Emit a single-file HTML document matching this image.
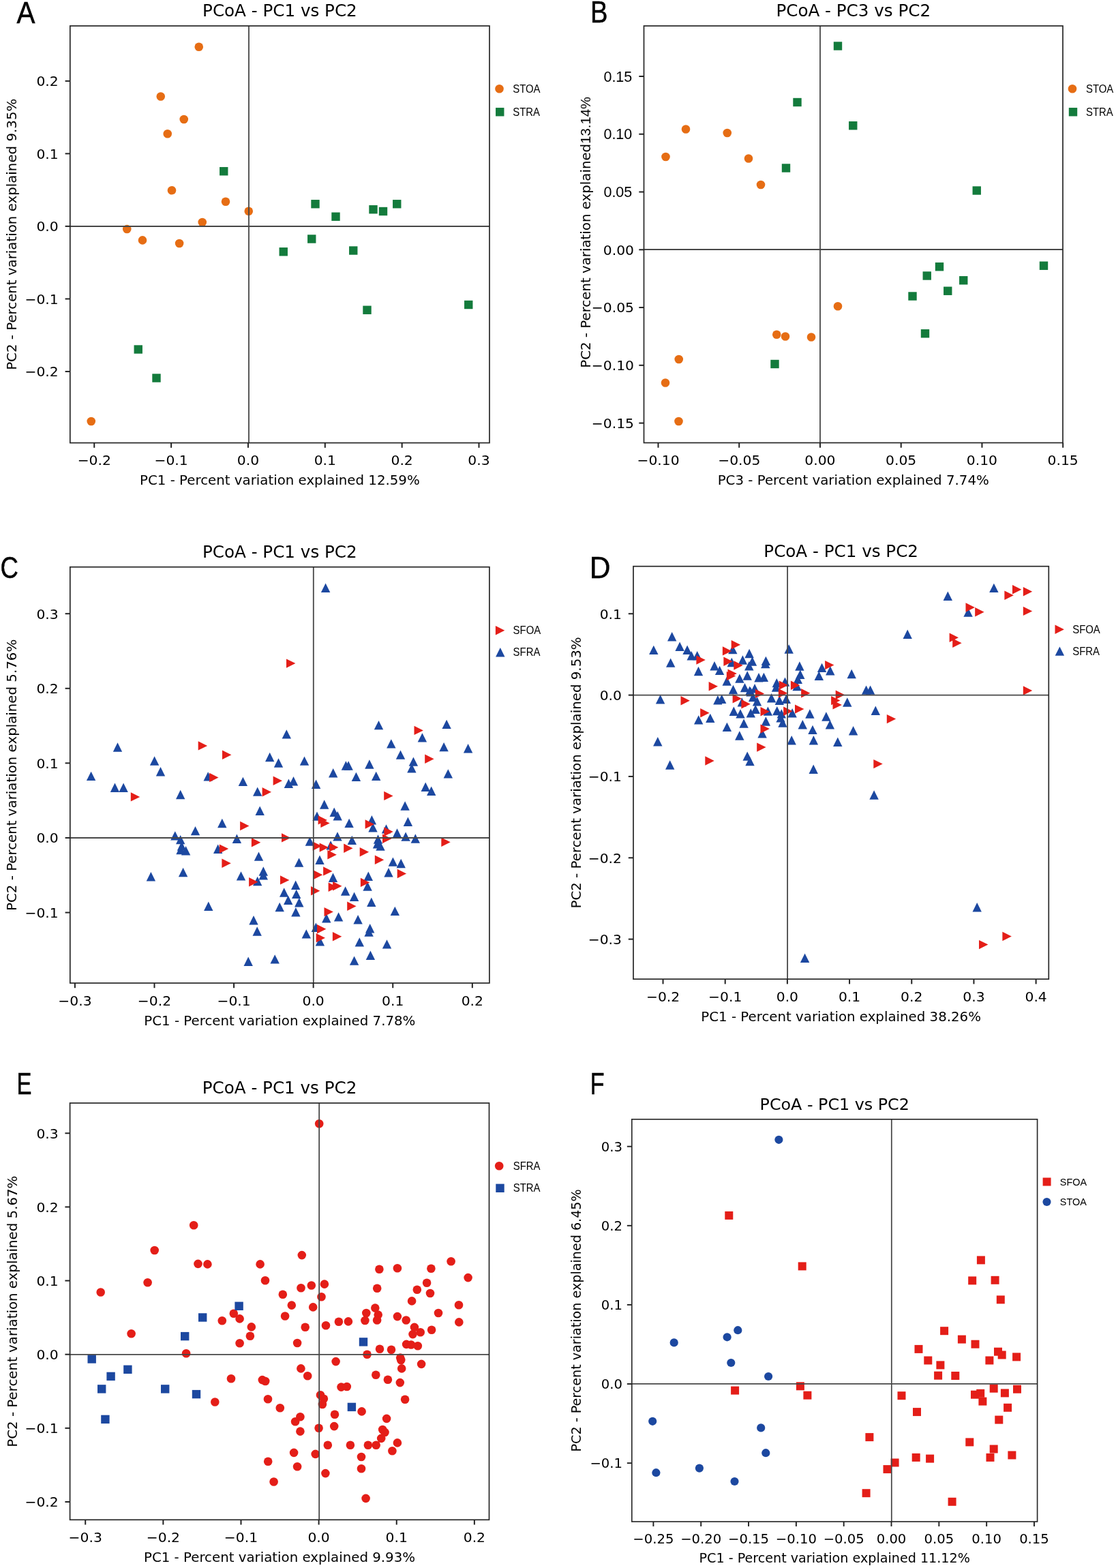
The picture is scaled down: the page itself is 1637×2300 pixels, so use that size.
<!DOCTYPE html>
<html><head><meta charset="utf-8"><title>PCoA plots</title>
<style>html,body{margin:0;padding:0;background:#fff}svg{display:block}</style></head>
<body>
<svg width="1637" height="2300" viewBox="0 0 1637 2300">
<rect width="1637" height="2300" fill="#fff"/>
<circle cx="291.75" cy="68.75" r="6.30" fill="#e66d14"/>
<circle cx="235.75" cy="141.50" r="6.30" fill="#e66d14"/>
<circle cx="269.75" cy="175.00" r="6.30" fill="#e66d14"/>
<circle cx="245.75" cy="196.25" r="6.30" fill="#e66d14"/>
<circle cx="252.00" cy="279.25" r="6.30" fill="#e66d14"/>
<circle cx="331.00" cy="295.75" r="6.30" fill="#e66d14"/>
<circle cx="364.75" cy="309.75" r="6.30" fill="#e66d14"/>
<circle cx="296.75" cy="326.00" r="6.30" fill="#e66d14"/>
<circle cx="186.25" cy="336.00" r="6.30" fill="#e66d14"/>
<circle cx="209.00" cy="352.40" r="6.30" fill="#e66d14"/>
<circle cx="263.10" cy="357.00" r="6.30" fill="#e66d14"/>
<circle cx="133.75" cy="618.00" r="6.30" fill="#e66d14"/>
<rect x="322.05" y="245.05" width="12.40" height="12.40" fill="#137b3c"/>
<rect x="456.30" y="293.05" width="12.40" height="12.40" fill="#137b3c"/>
<rect x="486.30" y="311.55" width="12.40" height="12.40" fill="#137b3c"/>
<rect x="541.30" y="301.05" width="12.40" height="12.40" fill="#137b3c"/>
<rect x="555.80" y="303.80" width="12.40" height="12.40" fill="#137b3c"/>
<rect x="576.05" y="293.05" width="12.40" height="12.40" fill="#137b3c"/>
<rect x="451.05" y="344.30" width="12.40" height="12.40" fill="#137b3c"/>
<rect x="409.55" y="363.05" width="12.40" height="12.40" fill="#137b3c"/>
<rect x="512.05" y="361.30" width="12.40" height="12.40" fill="#137b3c"/>
<rect x="532.30" y="448.55" width="12.40" height="12.40" fill="#137b3c"/>
<rect x="681.05" y="440.80" width="12.40" height="12.40" fill="#137b3c"/>
<rect x="196.55" y="506.30" width="12.40" height="12.40" fill="#137b3c"/>
<rect x="223.30" y="548.30" width="12.40" height="12.40" fill="#137b3c"/>
<line x1="102.80" y1="332.00" x2="718.00" y2="332.00" stroke="#474747" stroke-width="1.80"/>
<line x1="365.00" y1="38.00" x2="365.00" y2="649.60" stroke="#474747" stroke-width="1.80"/>
<rect x="102.80" y="38.00" width="615.20" height="611.60" fill="none" stroke="#262626" stroke-width="1.70"/>
<line x1="138.25" y1="649.60" x2="138.25" y2="656.80" stroke="#222" stroke-width="2.00"/>
<text x="138.25" y="682.30" font-size="20.30" text-anchor="middle" font-family="'DejaVu Sans', 'Liberation Sans', sans-serif">−0.2</text>
<line x1="251.10" y1="649.60" x2="251.10" y2="656.80" stroke="#222" stroke-width="2.00"/>
<text x="251.10" y="682.30" font-size="20.30" text-anchor="middle" font-family="'DejaVu Sans', 'Liberation Sans', sans-serif">−0.1</text>
<line x1="363.95" y1="649.60" x2="363.95" y2="656.80" stroke="#222" stroke-width="2.00"/>
<text x="363.95" y="682.30" font-size="20.30" text-anchor="middle" font-family="'DejaVu Sans', 'Liberation Sans', sans-serif">0.0</text>
<line x1="476.80" y1="649.60" x2="476.80" y2="656.80" stroke="#222" stroke-width="2.00"/>
<text x="476.80" y="682.30" font-size="20.30" text-anchor="middle" font-family="'DejaVu Sans', 'Liberation Sans', sans-serif">0.1</text>
<line x1="589.65" y1="649.60" x2="589.65" y2="656.80" stroke="#222" stroke-width="2.00"/>
<text x="589.65" y="682.30" font-size="20.30" text-anchor="middle" font-family="'DejaVu Sans', 'Liberation Sans', sans-serif">0.2</text>
<line x1="702.50" y1="649.60" x2="702.50" y2="656.80" stroke="#222" stroke-width="2.00"/>
<text x="702.50" y="682.30" font-size="20.30" text-anchor="middle" font-family="'DejaVu Sans', 'Liberation Sans', sans-serif">0.3</text>
<line x1="95.60" y1="118.85" x2="102.80" y2="118.85" stroke="#222" stroke-width="2.00"/>
<text x="85.70" y="126.26" font-size="20.30" text-anchor="end" font-family="'DejaVu Sans', 'Liberation Sans', sans-serif">0.2</text>
<line x1="95.60" y1="225.38" x2="102.80" y2="225.38" stroke="#222" stroke-width="2.00"/>
<text x="85.70" y="232.78" font-size="20.30" text-anchor="end" font-family="'DejaVu Sans', 'Liberation Sans', sans-serif">0.1</text>
<line x1="95.60" y1="331.90" x2="102.80" y2="331.90" stroke="#222" stroke-width="2.00"/>
<text x="85.70" y="339.31" font-size="20.30" text-anchor="end" font-family="'DejaVu Sans', 'Liberation Sans', sans-serif">0.0</text>
<line x1="95.60" y1="438.43" x2="102.80" y2="438.43" stroke="#222" stroke-width="2.00"/>
<text x="85.70" y="445.83" font-size="20.30" text-anchor="end" font-family="'DejaVu Sans', 'Liberation Sans', sans-serif">−0.1</text>
<line x1="95.60" y1="544.95" x2="102.80" y2="544.95" stroke="#222" stroke-width="2.00"/>
<text x="85.70" y="552.36" font-size="20.30" text-anchor="end" font-family="'DejaVu Sans', 'Liberation Sans', sans-serif">−0.2</text>
<text x="410.40" y="24.00" font-size="24.60" text-anchor="middle" font-family="'DejaVu Sans', 'Liberation Sans', sans-serif">PCoA - PC1 vs PC2</text>
<text x="410.40" y="711.00" font-size="19.80" text-anchor="middle" font-family="'DejaVu Sans', 'Liberation Sans', sans-serif">PC1 - Percent variation explained 12.59%</text>
<text transform="translate(24.00,343.80) rotate(-90)" x="0" y="0" font-size="19.80" text-anchor="middle" font-family="'DejaVu Sans', 'Liberation Sans', sans-serif">PC2 - Percent variation explained 9.35%</text>
<circle cx="732.50" cy="130.25" r="6.30" fill="#e66d14"/>
<text transform="translate(752.25,135.85) scale(0.95,1)" x="0" y="0" font-size="15.70" font-family="'Liberation Sans', 'DejaVu Sans', sans-serif">STOA</text>
<rect x="727.05" y="158.05" width="12.40" height="12.40" fill="#137b3c"/>
<text transform="translate(752.25,169.85) scale(0.95,1)" x="0" y="0" font-size="15.70" font-family="'Liberation Sans', 'DejaVu Sans', sans-serif">STRA</text>
<text transform="translate(24.60,33.60) scale(0.915,1)" x="0" y="0" font-size="44.20" font-family="'Liberation Sans', 'DejaVu Sans', sans-serif" stroke="#000" stroke-width="0.5">A</text>
<circle cx="976.50" cy="230.00" r="6.30" fill="#e66d14"/>
<circle cx="1006.00" cy="189.50" r="6.30" fill="#e66d14"/>
<circle cx="1066.75" cy="195.00" r="6.30" fill="#e66d14"/>
<circle cx="1098.00" cy="232.50" r="6.30" fill="#e66d14"/>
<circle cx="1116.00" cy="271.00" r="6.30" fill="#e66d14"/>
<circle cx="1139.25" cy="490.75" r="6.30" fill="#e66d14"/>
<circle cx="1152.00" cy="493.50" r="6.30" fill="#e66d14"/>
<circle cx="1190.00" cy="494.50" r="6.30" fill="#e66d14"/>
<circle cx="995.75" cy="527.00" r="6.30" fill="#e66d14"/>
<circle cx="976.00" cy="561.50" r="6.30" fill="#e66d14"/>
<circle cx="995.50" cy="618.00" r="6.30" fill="#e66d14"/>
<circle cx="1229.00" cy="449.25" r="6.30" fill="#e66d14"/>
<rect x="1163.30" y="143.80" width="12.40" height="12.40" fill="#137b3c"/>
<rect x="1146.80" y="240.30" width="12.40" height="12.40" fill="#137b3c"/>
<rect x="1222.80" y="61.30" width="12.40" height="12.40" fill="#137b3c"/>
<rect x="1245.05" y="178.05" width="12.40" height="12.40" fill="#137b3c"/>
<rect x="1426.55" y="273.30" width="12.40" height="12.40" fill="#137b3c"/>
<rect x="1130.30" y="527.80" width="12.40" height="12.40" fill="#137b3c"/>
<rect x="1371.80" y="385.05" width="12.40" height="12.40" fill="#137b3c"/>
<rect x="1353.55" y="398.30" width="12.40" height="12.40" fill="#137b3c"/>
<rect x="1407.05" y="405.05" width="12.40" height="12.40" fill="#137b3c"/>
<rect x="1384.05" y="420.55" width="12.40" height="12.40" fill="#137b3c"/>
<rect x="1332.30" y="428.30" width="12.40" height="12.40" fill="#137b3c"/>
<rect x="1350.80" y="483.05" width="12.40" height="12.40" fill="#137b3c"/>
<rect x="1524.80" y="383.55" width="12.40" height="12.40" fill="#137b3c"/>
<line x1="944.50" y1="366.00" x2="1559.00" y2="366.00" stroke="#474747" stroke-width="1.80"/>
<line x1="1203.00" y1="38.00" x2="1203.00" y2="649.50" stroke="#474747" stroke-width="1.80"/>
<rect x="944.50" y="38.00" width="614.50" height="611.50" fill="none" stroke="#262626" stroke-width="1.70"/>
<line x1="965.48" y1="649.50" x2="965.48" y2="656.70" stroke="#222" stroke-width="2.00"/>
<text x="965.48" y="682.30" font-size="20.30" text-anchor="middle" font-family="'DejaVu Sans', 'Liberation Sans', sans-serif">−0.10</text>
<line x1="1084.22" y1="649.50" x2="1084.22" y2="656.70" stroke="#222" stroke-width="2.00"/>
<text x="1084.22" y="682.30" font-size="20.30" text-anchor="middle" font-family="'DejaVu Sans', 'Liberation Sans', sans-serif">−0.05</text>
<line x1="1202.96" y1="649.50" x2="1202.96" y2="656.70" stroke="#222" stroke-width="2.00"/>
<text x="1202.96" y="682.30" font-size="20.30" text-anchor="middle" font-family="'DejaVu Sans', 'Liberation Sans', sans-serif">0.00</text>
<line x1="1321.70" y1="649.50" x2="1321.70" y2="656.70" stroke="#222" stroke-width="2.00"/>
<text x="1321.70" y="682.30" font-size="20.30" text-anchor="middle" font-family="'DejaVu Sans', 'Liberation Sans', sans-serif">0.05</text>
<line x1="1440.45" y1="649.50" x2="1440.45" y2="656.70" stroke="#222" stroke-width="2.00"/>
<text x="1440.45" y="682.30" font-size="20.30" text-anchor="middle" font-family="'DejaVu Sans', 'Liberation Sans', sans-serif">0.10</text>
<line x1="1559.19" y1="649.50" x2="1559.19" y2="656.70" stroke="#222" stroke-width="2.00"/>
<text x="1559.19" y="682.30" font-size="20.30" text-anchor="middle" font-family="'DejaVu Sans', 'Liberation Sans', sans-serif">0.15</text>
<line x1="937.30" y1="111.98" x2="944.50" y2="111.98" stroke="#222" stroke-width="2.00"/>
<text x="927.30" y="119.68" font-size="21.50" text-anchor="end" font-family="'Liberation Sans', 'DejaVu Sans', sans-serif">0.15</text>
<line x1="937.30" y1="196.75" x2="944.50" y2="196.75" stroke="#222" stroke-width="2.00"/>
<text x="927.30" y="204.45" font-size="21.50" text-anchor="end" font-family="'Liberation Sans', 'DejaVu Sans', sans-serif">0.10</text>
<line x1="937.30" y1="281.52" x2="944.50" y2="281.52" stroke="#222" stroke-width="2.00"/>
<text x="927.30" y="289.21" font-size="21.50" text-anchor="end" font-family="'Liberation Sans', 'DejaVu Sans', sans-serif">0.05</text>
<line x1="937.30" y1="366.29" x2="944.50" y2="366.29" stroke="#222" stroke-width="2.00"/>
<text x="930.00" y="373.70" font-size="20.30" text-anchor="end" font-family="'DejaVu Sans', 'Liberation Sans', sans-serif">0.00</text>
<line x1="937.30" y1="451.05" x2="944.50" y2="451.05" stroke="#222" stroke-width="2.00"/>
<text x="930.00" y="458.46" font-size="20.30" text-anchor="end" font-family="'DejaVu Sans', 'Liberation Sans', sans-serif">−0.05</text>
<line x1="937.30" y1="535.82" x2="944.50" y2="535.82" stroke="#222" stroke-width="2.00"/>
<text x="930.00" y="543.23" font-size="20.30" text-anchor="end" font-family="'DejaVu Sans', 'Liberation Sans', sans-serif">−0.10</text>
<line x1="937.30" y1="620.59" x2="944.50" y2="620.59" stroke="#222" stroke-width="2.00"/>
<text x="930.00" y="628.00" font-size="20.30" text-anchor="end" font-family="'DejaVu Sans', 'Liberation Sans', sans-serif">−0.15</text>
<text x="1251.75" y="24.00" font-size="24.60" text-anchor="middle" font-family="'DejaVu Sans', 'Liberation Sans', sans-serif">PCoA - PC3 vs PC2</text>
<text x="1251.75" y="711.00" font-size="19.80" text-anchor="middle" font-family="'DejaVu Sans', 'Liberation Sans', sans-serif">PC3 - Percent variation explained 7.74%</text>
<text transform="translate(866.30,539.80) rotate(-90)" x="0" y="0" font-size="19.80" font-family="'DejaVu Sans', 'Liberation Sans', sans-serif"><tspan font-family="'DejaVu Sans', 'Liberation Sans', sans-serif" font-size="19.80">PC2 - Percent variation explained</tspan><tspan font-family="'Liberation Sans', 'DejaVu Sans', sans-serif" font-size="20.30">13.14%</tspan></text>
<circle cx="1573.00" cy="130.25" r="6.30" fill="#e66d14"/>
<text transform="translate(1593.00,135.85) scale(0.95,1)" x="0" y="0" font-size="15.70" font-family="'Liberation Sans', 'DejaVu Sans', sans-serif">STOA</text>
<rect x="1567.80" y="158.05" width="12.40" height="12.40" fill="#137b3c"/>
<text transform="translate(1593.00,169.85) scale(0.95,1)" x="0" y="0" font-size="15.70" font-family="'Liberation Sans', 'DejaVu Sans', sans-serif">STRA</text>
<text transform="translate(865.94,33.40) scale(0.861,1)" x="0" y="0" font-size="44.49" font-family="'Liberation Sans', 'DejaVu Sans', sans-serif" stroke="#000" stroke-width="0.5">B</text>
<path d="M172.50 1089.30L179.20 1102.70L165.80 1102.70Z" fill="#1c48a0"/>
<path d="M226.60 1109.30L233.30 1122.70L219.90 1122.70Z" fill="#1c48a0"/>
<path d="M395.70 1103.80L402.40 1117.20L389.00 1117.20Z" fill="#1c48a0"/>
<path d="M408.50 1112.30L415.20 1125.70L401.80 1125.70Z" fill="#1c48a0"/>
<path d="M477.60 855.60L484.30 869.00L470.90 869.00Z" fill="#1c48a0"/>
<path d="M420.30 1070.20L427.00 1083.60L413.60 1083.60Z" fill="#1c48a0"/>
<path d="M446.50 1109.40L453.20 1122.80L439.80 1122.80Z" fill="#1c48a0"/>
<path d="M555.50 1056.90L562.20 1070.30L548.80 1070.30Z" fill="#1c48a0"/>
<path d="M655.10 1055.70L661.80 1069.10L648.40 1069.10Z" fill="#1c48a0"/>
<path d="M619.40 1075.20L626.10 1088.60L612.70 1088.60Z" fill="#1c48a0"/>
<path d="M573.80 1084.20L580.50 1097.60L567.10 1097.60Z" fill="#1c48a0"/>
<path d="M651.10 1088.90L657.80 1102.30L644.40 1102.30Z" fill="#1c48a0"/>
<path d="M686.60 1091.00L693.30 1104.40L679.90 1104.40Z" fill="#1c48a0"/>
<path d="M587.50 1100.40L594.20 1113.80L580.80 1113.80Z" fill="#1c48a0"/>
<path d="M606.40 1110.40L613.10 1123.80L599.70 1123.80Z" fill="#1c48a0"/>
<path d="M603.90 1120.10L610.60 1133.50L597.20 1133.50Z" fill="#1c48a0"/>
<path d="M541.90 1114.30L548.60 1127.70L535.20 1127.70Z" fill="#1c48a0"/>
<path d="M507.40 1116.30L514.10 1129.70L500.70 1129.70Z" fill="#1c48a0"/>
<path d="M511.10 1116.30L517.80 1129.70L504.40 1129.70Z" fill="#1c48a0"/>
<path d="M133.60 1131.70L140.30 1145.10L126.90 1145.10Z" fill="#1c48a0"/>
<path d="M235.50 1125.00L242.20 1138.40L228.80 1138.40Z" fill="#1c48a0"/>
<path d="M305.20 1132.20L311.90 1145.60L298.50 1145.60Z" fill="#1c48a0"/>
<path d="M356.40 1139.70L363.10 1153.10L349.70 1153.10Z" fill="#1c48a0"/>
<path d="M168.50 1148.50L175.20 1161.90L161.80 1161.90Z" fill="#1c48a0"/>
<path d="M181.10 1148.50L187.80 1161.90L174.40 1161.90Z" fill="#1c48a0"/>
<path d="M264.70 1158.80L271.40 1172.20L258.00 1172.20Z" fill="#1c48a0"/>
<path d="M377.70 1154.40L384.40 1167.80L371.00 1167.80Z" fill="#1c48a0"/>
<path d="M381.20 1182.60L387.90 1196.00L374.50 1196.00Z" fill="#1c48a0"/>
<path d="M325.80 1200.80L332.50 1214.20L319.10 1214.20Z" fill="#1c48a0"/>
<path d="M286.50 1211.90L293.20 1225.30L279.80 1225.30Z" fill="#1c48a0"/>
<path d="M256.80 1219.20L263.50 1232.60L250.10 1232.60Z" fill="#1c48a0"/>
<path d="M264.70 1224.90L271.40 1238.30L258.00 1238.30Z" fill="#1c48a0"/>
<path d="M266.50 1234.30L273.20 1247.70L259.80 1247.70Z" fill="#1c48a0"/>
<path d="M265.00 1239.80L271.70 1253.20L258.30 1253.20Z" fill="#1c48a0"/>
<path d="M272.60 1241.00L279.30 1254.40L265.90 1254.40Z" fill="#1c48a0"/>
<path d="M347.40 1223.50L354.10 1236.90L340.70 1236.90Z" fill="#1c48a0"/>
<path d="M319.70 1238.60L326.40 1252.00L313.00 1252.00Z" fill="#1c48a0"/>
<path d="M379.50 1249.40L386.20 1262.80L372.80 1262.80Z" fill="#1c48a0"/>
<path d="M268.60 1272.80L275.30 1286.20L261.90 1286.20Z" fill="#1c48a0"/>
<path d="M386.30 1271.30L393.00 1284.70L379.60 1284.70Z" fill="#1c48a0"/>
<path d="M386.30 1277.00L393.00 1290.40L379.60 1290.40Z" fill="#1c48a0"/>
<path d="M221.40 1279.00L228.10 1292.40L214.70 1292.40Z" fill="#1c48a0"/>
<path d="M353.50 1278.20L360.20 1291.60L346.80 1291.60Z" fill="#1c48a0"/>
<path d="M377.70 1285.80L384.40 1299.20L371.00 1299.20Z" fill="#1c48a0"/>
<path d="M305.80 1322.50L312.50 1335.90L299.10 1335.90Z" fill="#1c48a0"/>
<path d="M410.20 1323.80L416.90 1337.20L403.50 1337.20Z" fill="#1c48a0"/>
<path d="M372.00 1343.10L378.70 1356.50L365.30 1356.50Z" fill="#1c48a0"/>
<path d="M377.20 1359.30L383.90 1372.70L370.50 1372.70Z" fill="#1c48a0"/>
<path d="M364.20 1403.60L370.90 1417.00L357.50 1417.00Z" fill="#1c48a0"/>
<path d="M403.20 1400.20L409.90 1413.60L396.50 1413.60Z" fill="#1c48a0"/>
<path d="M488.70 1127.00L495.40 1140.40L482.00 1140.40Z" fill="#1c48a0"/>
<path d="M522.40 1132.70L529.10 1146.10L515.70 1146.10Z" fill="#1c48a0"/>
<path d="M551.70 1131.70L558.40 1145.10L545.00 1145.10Z" fill="#1c48a0"/>
<path d="M657.30 1128.20L664.00 1141.60L650.60 1141.60Z" fill="#1c48a0"/>
<path d="M423.40 1142.60L430.10 1156.00L416.70 1156.00Z" fill="#1c48a0"/>
<path d="M430.50 1139.00L437.20 1152.40L423.80 1152.40Z" fill="#1c48a0"/>
<path d="M463.60 1143.50L470.30 1156.90L456.90 1156.90Z" fill="#1c48a0"/>
<path d="M624.20 1147.50L630.90 1160.90L617.50 1160.90Z" fill="#1c48a0"/>
<path d="M632.70 1153.60L639.40 1167.00L626.00 1167.00Z" fill="#1c48a0"/>
<path d="M475.70 1173.30L482.40 1186.70L469.00 1186.70Z" fill="#1c48a0"/>
<path d="M594.10 1175.30L600.80 1188.70L587.40 1188.70Z" fill="#1c48a0"/>
<path d="M490.20 1184.50L496.90 1197.90L483.50 1197.90Z" fill="#1c48a0"/>
<path d="M495.20 1190.00L501.90 1203.40L488.50 1203.40Z" fill="#1c48a0"/>
<path d="M465.00 1190.40L471.70 1203.80L458.30 1203.80Z" fill="#1c48a0"/>
<path d="M512.10 1200.70L518.80 1214.10L505.40 1214.10Z" fill="#1c48a0"/>
<path d="M545.40 1196.00L552.10 1209.40L538.70 1209.40Z" fill="#1c48a0"/>
<path d="M547.00 1207.20L553.70 1220.60L540.30 1220.60Z" fill="#1c48a0"/>
<path d="M598.40 1198.50L605.10 1211.90L591.70 1211.90Z" fill="#1c48a0"/>
<path d="M566.50 1209.20L573.20 1222.60L559.80 1222.60Z" fill="#1c48a0"/>
<path d="M582.50 1215.30L589.20 1228.70L575.80 1228.70Z" fill="#1c48a0"/>
<path d="M495.00 1220.20L501.70 1233.60L488.30 1233.60Z" fill="#1c48a0"/>
<path d="M454.40 1227.30L461.10 1240.70L447.70 1240.70Z" fill="#1c48a0"/>
<path d="M516.30 1225.70L523.00 1239.10L509.60 1239.10Z" fill="#1c48a0"/>
<path d="M595.10 1220.40L601.80 1233.80L588.40 1233.80Z" fill="#1c48a0"/>
<path d="M609.30 1223.30L616.00 1236.70L602.60 1236.70Z" fill="#1c48a0"/>
<path d="M554.50 1224.30L561.20 1237.70L547.80 1237.70Z" fill="#1c48a0"/>
<path d="M553.50 1231.20L560.20 1244.60L546.80 1244.60Z" fill="#1c48a0"/>
<path d="M558.00 1234.40L564.70 1247.80L551.30 1247.80Z" fill="#1c48a0"/>
<path d="M485.10 1233.20L491.80 1246.60L478.40 1246.60Z" fill="#1c48a0"/>
<path d="M438.60 1258.40L445.30 1271.80L431.90 1271.80Z" fill="#1c48a0"/>
<path d="M469.00 1254.50L475.70 1267.90L462.30 1267.90Z" fill="#1c48a0"/>
<path d="M576.40 1257.40L583.10 1270.80L569.70 1270.80Z" fill="#1c48a0"/>
<path d="M588.20 1259.80L594.90 1273.20L581.50 1273.20Z" fill="#1c48a0"/>
<path d="M570.00 1273.10L576.70 1286.50L563.30 1286.50Z" fill="#1c48a0"/>
<path d="M488.50 1280.60L495.20 1294.00L481.80 1294.00Z" fill="#1c48a0"/>
<path d="M540.30 1278.50L547.00 1291.90L533.60 1291.90Z" fill="#1c48a0"/>
<path d="M433.70 1291.50L440.40 1304.90L427.00 1304.90Z" fill="#1c48a0"/>
<path d="M416.70 1302.30L423.40 1315.70L410.00 1315.70Z" fill="#1c48a0"/>
<path d="M434.70 1304.70L441.40 1318.10L428.00 1318.10Z" fill="#1c48a0"/>
<path d="M422.70 1313.50L429.40 1326.90L416.00 1326.90Z" fill="#1c48a0"/>
<path d="M438.80 1317.10L445.50 1330.50L432.10 1330.50Z" fill="#1c48a0"/>
<path d="M433.90 1331.10L440.60 1344.50L427.20 1344.50Z" fill="#1c48a0"/>
<path d="M539.10 1293.30L545.80 1306.70L532.40 1306.70Z" fill="#1c48a0"/>
<path d="M506.60 1300.30L513.30 1313.70L499.90 1313.70Z" fill="#1c48a0"/>
<path d="M519.60 1308.60L526.30 1322.00L512.90 1322.00Z" fill="#1c48a0"/>
<path d="M544.80 1316.50L551.50 1329.90L538.10 1329.90Z" fill="#1c48a0"/>
<path d="M579.30 1329.70L586.00 1343.10L572.60 1343.10Z" fill="#1c48a0"/>
<path d="M478.80 1340.10L485.50 1353.50L472.10 1353.50Z" fill="#1c48a0"/>
<path d="M496.60 1338.20L503.30 1351.60L489.90 1351.60Z" fill="#1c48a0"/>
<path d="M525.10 1342.10L531.80 1355.50L518.40 1355.50Z" fill="#1c48a0"/>
<path d="M463.40 1353.50L470.10 1366.90L456.70 1366.90Z" fill="#1c48a0"/>
<path d="M542.70 1355.10L549.40 1368.50L536.00 1368.50Z" fill="#1c48a0"/>
<path d="M541.10 1360.40L547.80 1373.80L534.40 1373.80Z" fill="#1c48a0"/>
<path d="M449.30 1363.20L456.00 1376.60L442.60 1376.60Z" fill="#1c48a0"/>
<path d="M469.40 1374.20L476.10 1387.60L462.70 1387.60Z" fill="#1c48a0"/>
<path d="M527.30 1375.20L534.00 1388.60L520.60 1388.60Z" fill="#1c48a0"/>
<path d="M567.50 1378.20L574.20 1391.60L560.80 1391.60Z" fill="#1c48a0"/>
<path d="M543.40 1394.50L550.10 1407.90L536.70 1407.90Z" fill="#1c48a0"/>
<path d="M519.60 1402.40L526.30 1415.80L512.90 1415.80Z" fill="#1c48a0"/>
<path d="M304.10 1093.90L290.70 1100.60L290.70 1087.20Z" fill="#e41e18"/>
<path d="M339.40 1107.30L326.00 1114.00L326.00 1100.60Z" fill="#e41e18"/>
<path d="M433.40 973.10L420.00 979.80L420.00 966.40Z" fill="#e41e18"/>
<path d="M620.90 1071.40L607.50 1078.10L607.50 1064.70Z" fill="#e41e18"/>
<path d="M636.60 1113.20L623.20 1119.90L623.20 1106.50Z" fill="#e41e18"/>
<path d="M320.50 1140.50L307.10 1147.20L307.10 1133.80Z" fill="#e41e18"/>
<path d="M414.00 1145.20L400.60 1151.90L400.60 1138.50Z" fill="#e41e18"/>
<path d="M205.20 1168.90L191.80 1175.60L191.80 1162.20Z" fill="#e41e18"/>
<path d="M398.00 1161.70L384.60 1168.40L384.60 1155.00Z" fill="#e41e18"/>
<path d="M365.50 1211.50L352.10 1218.20L352.10 1204.80Z" fill="#e41e18"/>
<path d="M382.30 1235.70L368.90 1242.40L368.90 1229.00Z" fill="#e41e18"/>
<path d="M335.20 1245.10L321.80 1251.80L321.80 1238.40Z" fill="#e41e18"/>
<path d="M338.80 1266.30L325.40 1273.00L325.40 1259.60Z" fill="#e41e18"/>
<path d="M378.50 1293.70L365.10 1300.40L365.10 1287.00Z" fill="#e41e18"/>
<path d="M576.60 1167.40L563.20 1174.10L563.20 1160.70Z" fill="#e41e18"/>
<path d="M480.00 1202.90L466.60 1209.60L466.60 1196.20Z" fill="#e41e18"/>
<path d="M483.70 1207.40L470.30 1214.10L470.30 1200.70Z" fill="#e41e18"/>
<path d="M549.00 1209.00L535.60 1215.70L535.60 1202.30Z" fill="#e41e18"/>
<path d="M576.70 1220.00L563.30 1226.70L563.30 1213.30Z" fill="#e41e18"/>
<path d="M426.40 1228.90L413.00 1235.60L413.00 1222.20Z" fill="#e41e18"/>
<path d="M660.70 1235.20L647.30 1241.90L647.30 1228.50Z" fill="#e41e18"/>
<path d="M574.40 1230.20L561.00 1236.90L561.00 1223.50Z" fill="#e41e18"/>
<path d="M472.10 1241.10L458.70 1247.80L458.70 1234.40Z" fill="#e41e18"/>
<path d="M482.00 1243.10L468.60 1249.80L468.60 1236.40Z" fill="#e41e18"/>
<path d="M496.40 1242.90L483.00 1249.60L483.00 1236.20Z" fill="#e41e18"/>
<path d="M517.60 1244.20L504.20 1250.90L504.20 1237.50Z" fill="#e41e18"/>
<path d="M493.80 1253.70L480.40 1260.40L480.40 1247.00Z" fill="#e41e18"/>
<path d="M541.10 1249.80L527.70 1256.50L527.70 1243.10Z" fill="#e41e18"/>
<path d="M563.20 1261.20L549.80 1267.90L549.80 1254.50Z" fill="#e41e18"/>
<path d="M596.10 1281.50L582.70 1288.20L582.70 1274.80Z" fill="#e41e18"/>
<path d="M487.50 1277.90L474.10 1284.60L474.10 1271.20Z" fill="#e41e18"/>
<path d="M473.30 1283.30L459.90 1290.00L459.90 1276.60Z" fill="#e41e18"/>
<path d="M424.40 1290.90L411.00 1297.60L411.00 1284.20Z" fill="#e41e18"/>
<path d="M469.40 1306.70L456.00 1313.40L456.00 1300.00Z" fill="#e41e18"/>
<path d="M495.00 1301.30L481.60 1308.00L481.60 1294.60Z" fill="#e41e18"/>
<path d="M501.50 1299.80L488.10 1306.50L488.10 1293.10Z" fill="#e41e18"/>
<path d="M542.30 1294.40L528.90 1301.10L528.90 1287.70Z" fill="#e41e18"/>
<path d="M522.60 1329.30L509.20 1336.00L509.20 1322.60Z" fill="#e41e18"/>
<path d="M488.90 1337.60L475.50 1344.30L475.50 1330.90Z" fill="#e41e18"/>
<path d="M478.40 1362.80L465.00 1369.50L465.00 1356.10Z" fill="#e41e18"/>
<path d="M477.00 1375.80L463.60 1382.50L463.60 1369.10Z" fill="#e41e18"/>
<path d="M501.30 1373.80L487.90 1380.50L487.90 1367.10Z" fill="#e41e18"/>
<line x1="102.80" y1="1229.00" x2="717.90" y2="1229.00" stroke="#474747" stroke-width="1.80"/>
<line x1="459.80" y1="831.70" x2="459.80" y2="1442.00" stroke="#474747" stroke-width="1.80"/>
<rect x="102.80" y="831.70" width="615.10" height="610.30" fill="none" stroke="#262626" stroke-width="1.70"/>
<line x1="109.91" y1="1442.00" x2="109.91" y2="1449.20" stroke="#222" stroke-width="2.00"/>
<text x="109.91" y="1474.80" font-size="20.30" text-anchor="middle" font-family="'DejaVu Sans', 'Liberation Sans', sans-serif">−0.3</text>
<line x1="226.49" y1="1442.00" x2="226.49" y2="1449.20" stroke="#222" stroke-width="2.00"/>
<text x="226.49" y="1474.80" font-size="20.30" text-anchor="middle" font-family="'DejaVu Sans', 'Liberation Sans', sans-serif">−0.2</text>
<line x1="343.08" y1="1442.00" x2="343.08" y2="1449.20" stroke="#222" stroke-width="2.00"/>
<text x="343.08" y="1474.80" font-size="20.30" text-anchor="middle" font-family="'DejaVu Sans', 'Liberation Sans', sans-serif">−0.1</text>
<line x1="459.66" y1="1442.00" x2="459.66" y2="1449.20" stroke="#222" stroke-width="2.00"/>
<text x="459.66" y="1474.80" font-size="20.30" text-anchor="middle" font-family="'DejaVu Sans', 'Liberation Sans', sans-serif">0.0</text>
<line x1="576.24" y1="1442.00" x2="576.24" y2="1449.20" stroke="#222" stroke-width="2.00"/>
<text x="576.24" y="1474.80" font-size="20.30" text-anchor="middle" font-family="'DejaVu Sans', 'Liberation Sans', sans-serif">0.1</text>
<line x1="692.82" y1="1442.00" x2="692.82" y2="1449.20" stroke="#222" stroke-width="2.00"/>
<text x="692.82" y="1474.80" font-size="20.30" text-anchor="middle" font-family="'DejaVu Sans', 'Liberation Sans', sans-serif">0.2</text>
<line x1="95.60" y1="900.20" x2="102.80" y2="900.20" stroke="#222" stroke-width="2.00"/>
<text x="85.70" y="907.61" font-size="20.30" text-anchor="end" font-family="'DejaVu Sans', 'Liberation Sans', sans-serif">0.3</text>
<line x1="95.60" y1="1009.79" x2="102.80" y2="1009.79" stroke="#222" stroke-width="2.00"/>
<text x="85.70" y="1017.20" font-size="20.30" text-anchor="end" font-family="'DejaVu Sans', 'Liberation Sans', sans-serif">0.2</text>
<line x1="95.60" y1="1119.38" x2="102.80" y2="1119.38" stroke="#222" stroke-width="2.00"/>
<text x="85.70" y="1126.79" font-size="20.30" text-anchor="end" font-family="'DejaVu Sans', 'Liberation Sans', sans-serif">0.1</text>
<line x1="95.60" y1="1228.97" x2="102.80" y2="1228.97" stroke="#222" stroke-width="2.00"/>
<text x="85.70" y="1236.38" font-size="20.30" text-anchor="end" font-family="'DejaVu Sans', 'Liberation Sans', sans-serif">0.0</text>
<line x1="95.60" y1="1338.56" x2="102.80" y2="1338.56" stroke="#222" stroke-width="2.00"/>
<text x="85.70" y="1345.97" font-size="20.30" text-anchor="end" font-family="'DejaVu Sans', 'Liberation Sans', sans-serif">−0.1</text>
<text x="410.35" y="817.60" font-size="24.60" text-anchor="middle" font-family="'DejaVu Sans', 'Liberation Sans', sans-serif">PCoA - PC1 vs PC2</text>
<text x="410.35" y="1503.50" font-size="19.80" text-anchor="middle" font-family="'DejaVu Sans', 'Liberation Sans', sans-serif">PC1 - Percent variation explained 7.78%</text>
<text transform="translate(24.00,1136.85) rotate(-90)" x="0" y="0" font-size="19.80" text-anchor="middle" font-family="'DejaVu Sans', 'Liberation Sans', sans-serif">PC2 - Percent variation explained 5.76%</text>
<path d="M740.30 924.80L726.90 931.50L726.90 918.10Z" fill="#e41e18"/>
<text transform="translate(752.60,930.40) scale(0.95,1)" x="0" y="0" font-size="15.70" font-family="'Liberation Sans', 'DejaVu Sans', sans-serif">SFOA</text>
<path d="M733.80 950.10L740.50 963.50L727.10 963.50Z" fill="#1c48a0"/>
<text transform="translate(752.60,962.40) scale(0.95,1)" x="0" y="0" font-size="15.70" font-family="'Liberation Sans', 'DejaVu Sans', sans-serif">SFRA</text>
<text transform="translate(0.57,848.00) scale(0.840,1)" x="0" y="0" font-size="43.66" font-family="'Liberation Sans', 'DejaVu Sans', sans-serif" stroke="#000" stroke-width="0.5">C</text>
<path d="M985.70 927.00L992.40 940.40L979.00 940.40Z" fill="#1c48a0"/>
<path d="M958.80 946.70L965.50 960.10L952.10 960.10Z" fill="#1c48a0"/>
<path d="M997.10 941.50L1003.80 954.90L990.40 954.90Z" fill="#1c48a0"/>
<path d="M1008.10 946.60L1014.80 960.00L1001.40 960.00Z" fill="#1c48a0"/>
<path d="M1014.20 955.10L1020.90 968.50L1007.50 968.50Z" fill="#1c48a0"/>
<path d="M1022.70 954.90L1029.40 968.30L1016.00 968.30Z" fill="#1c48a0"/>
<path d="M983.70 965.40L990.40 978.80L977.00 978.80Z" fill="#1c48a0"/>
<path d="M1024.50 977.80L1031.20 991.20L1017.80 991.20Z" fill="#1c48a0"/>
<path d="M1048.00 970.10L1054.70 983.50L1041.30 983.50Z" fill="#1c48a0"/>
<path d="M1055.60 976.70L1062.30 990.10L1048.90 990.10Z" fill="#1c48a0"/>
<path d="M1074.80 945.90L1081.50 959.30L1068.10 959.30Z" fill="#1c48a0"/>
<path d="M1073.30 964.80L1080.00 978.20L1066.60 978.20Z" fill="#1c48a0"/>
<path d="M1089.40 961.30L1096.10 974.70L1082.70 974.70Z" fill="#1c48a0"/>
<path d="M1099.10 951.80L1105.80 965.20L1092.40 965.20Z" fill="#1c48a0"/>
<path d="M1103.50 963.30L1110.20 976.70L1096.80 976.70Z" fill="#1c48a0"/>
<path d="M1098.80 970.00L1105.50 983.40L1092.10 983.40Z" fill="#1c48a0"/>
<path d="M1123.40 962.70L1130.10 976.10L1116.70 976.10Z" fill="#1c48a0"/>
<path d="M1122.80 966.80L1129.50 980.20L1116.10 980.20Z" fill="#1c48a0"/>
<path d="M1084.90 988.40L1091.60 1001.80L1078.20 1001.80Z" fill="#1c48a0"/>
<path d="M1096.20 984.30L1102.90 997.70L1089.50 997.70Z" fill="#1c48a0"/>
<path d="M1113.00 987.00L1119.70 1000.40L1106.30 1000.40Z" fill="#1c48a0"/>
<path d="M1120.40 986.70L1127.10 1000.10L1113.70 1000.10Z" fill="#1c48a0"/>
<path d="M1066.20 992.30L1072.90 1005.70L1059.50 1005.70Z" fill="#1c48a0"/>
<path d="M1075.50 1004.80L1082.20 1018.20L1068.80 1018.20Z" fill="#1c48a0"/>
<path d="M1092.50 1001.90L1099.20 1015.30L1085.80 1015.30Z" fill="#1c48a0"/>
<path d="M1099.70 1006.60L1106.40 1020.00L1093.00 1020.00Z" fill="#1c48a0"/>
<path d="M1107.10 1003.10L1113.80 1016.50L1100.40 1016.50Z" fill="#1c48a0"/>
<path d="M1157.20 945.30L1163.90 958.70L1150.50 958.70Z" fill="#1c48a0"/>
<path d="M1172.90 970.30L1179.60 983.70L1166.20 983.70Z" fill="#1c48a0"/>
<path d="M1173.80 982.60L1180.50 996.00L1167.10 996.00Z" fill="#1c48a0"/>
<path d="M1170.30 989.60L1177.00 1003.00L1163.60 1003.00Z" fill="#1c48a0"/>
<path d="M1169.10 999.80L1175.80 1013.20L1162.40 1013.20Z" fill="#1c48a0"/>
<path d="M1205.60 972.70L1212.30 986.10L1198.90 986.10Z" fill="#1c48a0"/>
<path d="M1217.80 977.00L1224.50 990.40L1211.10 990.40Z" fill="#1c48a0"/>
<path d="M1201.30 984.50L1208.00 997.90L1194.60 997.90Z" fill="#1c48a0"/>
<path d="M1249.20 981.80L1255.90 995.20L1242.50 995.20Z" fill="#1c48a0"/>
<path d="M1270.60 1005.40L1277.30 1018.80L1263.90 1018.80Z" fill="#1c48a0"/>
<path d="M1276.60 1005.40L1283.30 1018.80L1269.90 1018.80Z" fill="#1c48a0"/>
<path d="M1139.30 994.90L1146.00 1008.30L1132.60 1008.30Z" fill="#1c48a0"/>
<path d="M1151.50 993.40L1158.20 1006.80L1144.80 1006.80Z" fill="#1c48a0"/>
<path d="M1242.80 1023.30L1249.50 1036.70L1236.10 1036.70Z" fill="#1c48a0"/>
<path d="M1138.50 1001.30L1145.20 1014.70L1131.80 1014.70Z" fill="#1c48a0"/>
<path d="M968.60 1019.10L975.30 1032.50L961.90 1032.50Z" fill="#1c48a0"/>
<path d="M1052.90 1020.10L1059.60 1033.50L1046.20 1033.50Z" fill="#1c48a0"/>
<path d="M1058.70 1018.70L1065.40 1032.10L1052.00 1032.10Z" fill="#1c48a0"/>
<path d="M1088.30 1023.20L1095.00 1036.60L1081.60 1036.60Z" fill="#1c48a0"/>
<path d="M1076.30 1036.50L1083.00 1049.90L1069.60 1049.90Z" fill="#1c48a0"/>
<path d="M1086.00 1040.20L1092.70 1053.60L1079.30 1053.60Z" fill="#1c48a0"/>
<path d="M1101.30 1039.20L1108.00 1052.60L1094.60 1052.60Z" fill="#1c48a0"/>
<path d="M1024.70 1049.20L1031.40 1062.60L1018.00 1062.60Z" fill="#1c48a0"/>
<path d="M1041.80 1046.70L1048.50 1060.10L1035.10 1060.10Z" fill="#1c48a0"/>
<path d="M1091.10 1054.40L1097.80 1067.80L1084.40 1067.80Z" fill="#1c48a0"/>
<path d="M1066.40 1059.70L1073.10 1073.10L1059.70 1073.10Z" fill="#1c48a0"/>
<path d="M1123.40 1051.30L1130.10 1064.70L1116.70 1064.70Z" fill="#1c48a0"/>
<path d="M1118.10 1069.10L1124.80 1082.50L1111.40 1082.50Z" fill="#1c48a0"/>
<path d="M1084.80 1072.30L1091.50 1085.70L1078.10 1085.70Z" fill="#1c48a0"/>
<path d="M964.80 1081.10L971.50 1094.50L958.10 1094.50Z" fill="#1c48a0"/>
<path d="M1096.20 1102.40L1102.90 1115.80L1089.50 1115.80Z" fill="#1c48a0"/>
<path d="M1100.00 1109.90L1106.70 1123.30L1093.30 1123.30Z" fill="#1c48a0"/>
<path d="M982.70 1115.30L989.40 1128.70L976.00 1128.70Z" fill="#1c48a0"/>
<path d="M1101.10 1008.00L1107.80 1021.40L1094.40 1021.40Z" fill="#1c48a0"/>
<path d="M1110.50 1022.00L1117.20 1035.40L1103.80 1035.40Z" fill="#1c48a0"/>
<path d="M1108.20 1033.70L1114.90 1047.10L1101.50 1047.10Z" fill="#1c48a0"/>
<path d="M1104.60 1015.90L1111.30 1029.30L1097.90 1029.30Z" fill="#1c48a0"/>
<path d="M1131.60 1017.00L1138.30 1030.40L1124.90 1030.40Z" fill="#1c48a0"/>
<path d="M1143.30 1020.50L1150.00 1033.90L1136.60 1033.90Z" fill="#1c48a0"/>
<path d="M1153.30 1018.70L1160.00 1032.10L1146.60 1032.10Z" fill="#1c48a0"/>
<path d="M1284.30 1035.50L1291.00 1048.90L1277.60 1048.90Z" fill="#1c48a0"/>
<path d="M1126.40 1036.40L1133.10 1049.80L1119.70 1049.80Z" fill="#1c48a0"/>
<path d="M1139.80 1035.90L1146.50 1049.30L1133.10 1049.30Z" fill="#1c48a0"/>
<path d="M1146.30 1040.20L1153.00 1053.60L1139.60 1053.60Z" fill="#1c48a0"/>
<path d="M1162.10 1039.10L1168.80 1052.50L1155.40 1052.50Z" fill="#1c48a0"/>
<path d="M1187.90 1040.30L1194.60 1053.70L1181.20 1053.70Z" fill="#1c48a0"/>
<path d="M1211.90 1044.30L1218.60 1057.70L1205.20 1057.70Z" fill="#1c48a0"/>
<path d="M1145.10 1046.20L1151.80 1059.60L1138.40 1059.60Z" fill="#1c48a0"/>
<path d="M1148.00 1053.30L1154.70 1066.70L1141.30 1066.70Z" fill="#1c48a0"/>
<path d="M1177.30 1056.00L1184.00 1069.40L1170.60 1069.40Z" fill="#1c48a0"/>
<path d="M1217.40 1056.20L1224.10 1069.60L1210.70 1069.60Z" fill="#1c48a0"/>
<path d="M1192.00 1063.70L1198.70 1077.10L1185.30 1077.10Z" fill="#1c48a0"/>
<path d="M1251.60 1065.00L1258.30 1078.40L1244.90 1078.40Z" fill="#1c48a0"/>
<path d="M1161.20 1079.00L1167.90 1092.40L1154.50 1092.40Z" fill="#1c48a0"/>
<path d="M1193.40 1079.00L1200.10 1092.40L1186.70 1092.40Z" fill="#1c48a0"/>
<path d="M1228.80 1081.50L1235.50 1094.90L1222.10 1094.90Z" fill="#1c48a0"/>
<path d="M1193.20 1121.50L1199.90 1134.90L1186.50 1134.90Z" fill="#1c48a0"/>
<path d="M1457.90 855.70L1464.60 869.10L1451.20 869.10Z" fill="#1c48a0"/>
<path d="M1390.30 867.50L1397.00 880.90L1383.60 880.90Z" fill="#1c48a0"/>
<path d="M1420.10 891.40L1426.80 904.80L1413.40 904.80Z" fill="#1c48a0"/>
<path d="M1331.20 923.50L1337.90 936.90L1324.50 936.90Z" fill="#1c48a0"/>
<path d="M1282.10 1159.30L1288.80 1172.70L1275.40 1172.70Z" fill="#1c48a0"/>
<path d="M1433.20 1324.00L1439.90 1337.40L1426.50 1337.40Z" fill="#1c48a0"/>
<path d="M1180.60 1398.60L1187.30 1412.00L1173.90 1412.00Z" fill="#1c48a0"/>
<path d="M1034.80 968.10L1021.40 974.80L1021.40 961.40Z" fill="#e41e18"/>
<path d="M1086.10 945.80L1072.70 952.50L1072.70 939.10Z" fill="#e41e18"/>
<path d="M1073.30 954.90L1059.90 961.60L1059.90 948.20Z" fill="#e41e18"/>
<path d="M1074.80 970.20L1061.40 976.90L1061.40 963.50Z" fill="#e41e18"/>
<path d="M1089.70 976.00L1076.30 982.70L1076.30 969.30Z" fill="#e41e18"/>
<path d="M1080.90 988.10L1067.50 994.80L1067.50 981.40Z" fill="#e41e18"/>
<path d="M1079.20 991.60L1065.80 998.30L1065.80 984.90Z" fill="#e41e18"/>
<path d="M1053.00 1006.80L1039.60 1013.50L1039.60 1000.10Z" fill="#e41e18"/>
<path d="M1121.20 1017.40L1107.80 1024.10L1107.80 1010.70Z" fill="#e41e18"/>
<path d="M1173.30 1005.30L1159.90 1012.00L1159.90 998.60Z" fill="#e41e18"/>
<path d="M1223.50 975.60L1210.10 982.30L1210.10 968.90Z" fill="#e41e18"/>
<path d="M1188.50 1016.80L1175.10 1023.50L1175.10 1010.10Z" fill="#e41e18"/>
<path d="M1239.10 1019.20L1225.70 1025.90L1225.70 1012.50Z" fill="#e41e18"/>
<path d="M1232.50 1027.60L1219.10 1034.30L1219.10 1020.90Z" fill="#e41e18"/>
<path d="M1156.10 1005.10L1142.70 1011.80L1142.70 998.40Z" fill="#e41e18"/>
<path d="M1155.30 1016.80L1141.90 1023.50L1141.90 1010.10Z" fill="#e41e18"/>
<path d="M1011.90 1027.80L998.50 1034.50L998.50 1021.10Z" fill="#e41e18"/>
<path d="M1088.00 1024.70L1074.60 1031.40L1074.60 1018.00Z" fill="#e41e18"/>
<path d="M1100.80 1032.80L1087.40 1039.50L1087.40 1026.10Z" fill="#e41e18"/>
<path d="M1128.90 1043.70L1115.50 1050.40L1115.50 1037.00Z" fill="#e41e18"/>
<path d="M1040.60 1045.70L1027.20 1052.40L1027.20 1039.00Z" fill="#e41e18"/>
<path d="M1128.90 1069.10L1115.50 1075.80L1115.50 1062.40Z" fill="#e41e18"/>
<path d="M1123.60 1096.10L1110.20 1102.80L1110.20 1089.40Z" fill="#e41e18"/>
<path d="M1047.70 1116.00L1034.30 1122.70L1034.30 1109.30Z" fill="#e41e18"/>
<path d="M1234.90 1033.90L1221.50 1040.60L1221.50 1027.20Z" fill="#e41e18"/>
<path d="M1162.60 1043.30L1149.20 1050.00L1149.20 1036.60Z" fill="#e41e18"/>
<path d="M1179.40 1040.10L1166.00 1046.80L1166.00 1033.40Z" fill="#e41e18"/>
<path d="M1294.70 1120.60L1281.30 1127.30L1281.30 1113.90Z" fill="#e41e18"/>
<path d="M1498.40 864.70L1485.00 871.40L1485.00 858.00Z" fill="#e41e18"/>
<path d="M1514.20 867.80L1500.80 874.50L1500.80 861.10Z" fill="#e41e18"/>
<path d="M1486.80 873.30L1473.40 880.00L1473.40 866.60Z" fill="#e41e18"/>
<path d="M1429.90 891.00L1416.50 897.70L1416.50 884.30Z" fill="#e41e18"/>
<path d="M1443.60 897.70L1430.20 904.40L1430.20 891.00Z" fill="#e41e18"/>
<path d="M1514.20 896.40L1500.80 903.10L1500.80 889.70Z" fill="#e41e18"/>
<path d="M1406.00 935.30L1392.60 942.00L1392.60 928.60Z" fill="#e41e18"/>
<path d="M1410.60 943.30L1397.20 950.00L1397.20 936.60Z" fill="#e41e18"/>
<path d="M1514.20 1013.00L1500.80 1019.70L1500.80 1006.30Z" fill="#e41e18"/>
<path d="M1314.20 1054.60L1300.80 1061.30L1300.80 1047.90Z" fill="#e41e18"/>
<path d="M1483.80 1373.50L1470.40 1380.20L1470.40 1366.80Z" fill="#e41e18"/>
<path d="M1449.40 1385.60L1436.00 1392.30L1436.00 1378.90Z" fill="#e41e18"/>
<line x1="929.00" y1="1019.60" x2="1538.30" y2="1019.60" stroke="#474747" stroke-width="1.80"/>
<line x1="1155.10" y1="830.70" x2="1155.10" y2="1436.20" stroke="#474747" stroke-width="1.80"/>
<rect x="929.00" y="830.70" width="609.30" height="605.50" fill="none" stroke="#262626" stroke-width="1.70"/>
<line x1="972.53" y1="1436.20" x2="972.53" y2="1443.40" stroke="#222" stroke-width="2.00"/>
<text x="972.53" y="1469.00" font-size="20.30" text-anchor="middle" font-family="'DejaVu Sans', 'Liberation Sans', sans-serif">−0.2</text>
<line x1="1063.71" y1="1436.20" x2="1063.71" y2="1443.40" stroke="#222" stroke-width="2.00"/>
<text x="1063.71" y="1469.00" font-size="20.30" text-anchor="middle" font-family="'DejaVu Sans', 'Liberation Sans', sans-serif">−0.1</text>
<line x1="1154.89" y1="1436.20" x2="1154.89" y2="1443.40" stroke="#222" stroke-width="2.00"/>
<text x="1154.89" y="1469.00" font-size="20.30" text-anchor="middle" font-family="'DejaVu Sans', 'Liberation Sans', sans-serif">0.0</text>
<line x1="1246.07" y1="1436.20" x2="1246.07" y2="1443.40" stroke="#222" stroke-width="2.00"/>
<text x="1246.07" y="1469.00" font-size="20.30" text-anchor="middle" font-family="'DejaVu Sans', 'Liberation Sans', sans-serif">0.1</text>
<line x1="1337.25" y1="1436.20" x2="1337.25" y2="1443.40" stroke="#222" stroke-width="2.00"/>
<text x="1337.25" y="1469.00" font-size="20.30" text-anchor="middle" font-family="'DejaVu Sans', 'Liberation Sans', sans-serif">0.2</text>
<line x1="1428.44" y1="1436.20" x2="1428.44" y2="1443.40" stroke="#222" stroke-width="2.00"/>
<text x="1428.44" y="1469.00" font-size="20.30" text-anchor="middle" font-family="'DejaVu Sans', 'Liberation Sans', sans-serif">0.3</text>
<line x1="1519.62" y1="1436.20" x2="1519.62" y2="1443.40" stroke="#222" stroke-width="2.00"/>
<text x="1519.62" y="1469.00" font-size="20.30" text-anchor="middle" font-family="'DejaVu Sans', 'Liberation Sans', sans-serif">0.4</text>
<line x1="921.80" y1="900.26" x2="929.00" y2="900.26" stroke="#222" stroke-width="2.00"/>
<text x="911.90" y="907.67" font-size="20.30" text-anchor="end" font-family="'DejaVu Sans', 'Liberation Sans', sans-serif">0.1</text>
<line x1="921.80" y1="1019.60" x2="929.00" y2="1019.60" stroke="#222" stroke-width="2.00"/>
<text x="911.90" y="1027.01" font-size="20.30" text-anchor="end" font-family="'DejaVu Sans', 'Liberation Sans', sans-serif">0.0</text>
<line x1="921.80" y1="1138.94" x2="929.00" y2="1138.94" stroke="#222" stroke-width="2.00"/>
<text x="911.90" y="1146.35" font-size="20.30" text-anchor="end" font-family="'DejaVu Sans', 'Liberation Sans', sans-serif">−0.1</text>
<line x1="921.80" y1="1258.28" x2="929.00" y2="1258.28" stroke="#222" stroke-width="2.00"/>
<text x="911.90" y="1265.69" font-size="20.30" text-anchor="end" font-family="'DejaVu Sans', 'Liberation Sans', sans-serif">−0.2</text>
<line x1="921.80" y1="1377.62" x2="929.00" y2="1377.62" stroke="#222" stroke-width="2.00"/>
<text x="911.90" y="1385.03" font-size="20.30" text-anchor="end" font-family="'DejaVu Sans', 'Liberation Sans', sans-serif">−0.3</text>
<text x="1233.65" y="816.60" font-size="24.60" text-anchor="middle" font-family="'DejaVu Sans', 'Liberation Sans', sans-serif">PCoA - PC1 vs PC2</text>
<text x="1233.65" y="1497.50" font-size="19.80" text-anchor="middle" font-family="'DejaVu Sans', 'Liberation Sans', sans-serif">PC1 - Percent variation explained 38.26%</text>
<text transform="translate(851.80,1133.45) rotate(-90)" x="0" y="0" font-size="19.80" text-anchor="middle" font-family="'DejaVu Sans', 'Liberation Sans', sans-serif">PC2 - Percent variation explained 9.53%</text>
<path d="M1560.90 923.20L1547.50 929.90L1547.50 916.50Z" fill="#e41e18"/>
<text transform="translate(1573.20,928.80) scale(0.95,1)" x="0" y="0" font-size="15.70" font-family="'Liberation Sans', 'DejaVu Sans', sans-serif">SFOA</text>
<path d="M1554.40 948.40L1561.10 961.80L1547.70 961.80Z" fill="#1c48a0"/>
<text transform="translate(1573.20,960.70) scale(0.95,1)" x="0" y="0" font-size="15.70" font-family="'Liberation Sans', 'DejaVu Sans', sans-serif">SFRA</text>
<text transform="translate(864.80,848.00) scale(0.956,1)" x="0" y="0" font-size="44.49" font-family="'Liberation Sans', 'DejaVu Sans', sans-serif" stroke="#000" stroke-width="0.5">D</text>
<circle cx="284.20" cy="1797.20" r="6.30" fill="#e41e18"/>
<circle cx="226.70" cy="1834.00" r="6.30" fill="#e41e18"/>
<circle cx="290.50" cy="1853.90" r="6.30" fill="#e41e18"/>
<circle cx="304.40" cy="1854.40" r="6.30" fill="#e41e18"/>
<circle cx="381.60" cy="1854.40" r="6.30" fill="#e41e18"/>
<circle cx="389.00" cy="1878.30" r="6.30" fill="#e41e18"/>
<circle cx="216.60" cy="1881.20" r="6.30" fill="#e41e18"/>
<circle cx="147.70" cy="1895.50" r="6.30" fill="#e41e18"/>
<circle cx="468.20" cy="1648.30" r="6.30" fill="#e41e18"/>
<circle cx="442.80" cy="1841.10" r="6.30" fill="#e41e18"/>
<circle cx="556.40" cy="1861.70" r="6.30" fill="#e41e18"/>
<circle cx="582.90" cy="1860.20" r="6.30" fill="#e41e18"/>
<circle cx="632.40" cy="1860.70" r="6.30" fill="#e41e18"/>
<circle cx="661.60" cy="1850.20" r="6.30" fill="#e41e18"/>
<circle cx="686.60" cy="1874.10" r="6.30" fill="#e41e18"/>
<circle cx="626.10" cy="1881.70" r="6.30" fill="#e41e18"/>
<circle cx="441.50" cy="1889.20" r="6.30" fill="#e41e18"/>
<circle cx="456.80" cy="1885.50" r="6.30" fill="#e41e18"/>
<circle cx="475.90" cy="1883.60" r="6.30" fill="#e41e18"/>
<circle cx="553.20" cy="1889.70" r="6.30" fill="#e41e18"/>
<circle cx="611.80" cy="1891.80" r="6.30" fill="#e41e18"/>
<circle cx="631.00" cy="1897.00" r="6.30" fill="#e41e18"/>
<circle cx="414.80" cy="1898.70" r="6.30" fill="#e41e18"/>
<circle cx="471.50" cy="1902.20" r="6.30" fill="#e41e18"/>
<circle cx="604.10" cy="1908.40" r="6.30" fill="#e41e18"/>
<circle cx="427.80" cy="1914.60" r="6.30" fill="#e41e18"/>
<circle cx="459.20" cy="1917.40" r="6.30" fill="#e41e18"/>
<circle cx="550.30" cy="1918.60" r="6.30" fill="#e41e18"/>
<circle cx="673.00" cy="1914.20" r="6.30" fill="#e41e18"/>
<circle cx="192.60" cy="1956.30" r="6.30" fill="#e41e18"/>
<circle cx="325.80" cy="1937.20" r="6.30" fill="#e41e18"/>
<circle cx="342.80" cy="1926.70" r="6.30" fill="#e41e18"/>
<circle cx="351.60" cy="1934.40" r="6.30" fill="#e41e18"/>
<circle cx="368.80" cy="1946.40" r="6.30" fill="#e41e18"/>
<circle cx="366.90" cy="1959.70" r="6.30" fill="#e41e18"/>
<circle cx="351.60" cy="1970.20" r="6.30" fill="#e41e18"/>
<circle cx="273.10" cy="1985.30" r="6.30" fill="#e41e18"/>
<circle cx="339.00" cy="2022.20" r="6.30" fill="#e41e18"/>
<circle cx="384.80" cy="2024.10" r="6.30" fill="#e41e18"/>
<circle cx="389.20" cy="2026.00" r="6.30" fill="#e41e18"/>
<circle cx="393.00" cy="2052.30" r="6.30" fill="#e41e18"/>
<circle cx="315.30" cy="2056.50" r="6.30" fill="#e41e18"/>
<circle cx="393.20" cy="2143.80" r="6.30" fill="#e41e18"/>
<circle cx="401.60" cy="2173.50" r="6.30" fill="#e41e18"/>
<circle cx="418.10" cy="1930.50" r="6.30" fill="#e41e18"/>
<circle cx="447.70" cy="1946.70" r="6.30" fill="#e41e18"/>
<circle cx="436.10" cy="1970.00" r="6.30" fill="#e41e18"/>
<circle cx="478.00" cy="1944.30" r="6.30" fill="#e41e18"/>
<circle cx="496.90" cy="1938.80" r="6.30" fill="#e41e18"/>
<circle cx="510.90" cy="1938.40" r="6.30" fill="#e41e18"/>
<circle cx="537.30" cy="1926.00" r="6.30" fill="#e41e18"/>
<circle cx="535.40" cy="1937.00" r="6.30" fill="#e41e18"/>
<circle cx="554.70" cy="1928.60" r="6.30" fill="#e41e18"/>
<circle cx="553.10" cy="1936.50" r="6.30" fill="#e41e18"/>
<circle cx="582.90" cy="1931.10" r="6.30" fill="#e41e18"/>
<circle cx="595.70" cy="1936.50" r="6.30" fill="#e41e18"/>
<circle cx="643.00" cy="1926.00" r="6.30" fill="#e41e18"/>
<circle cx="673.30" cy="1939.40" r="6.30" fill="#e41e18"/>
<circle cx="607.90" cy="1946.90" r="6.30" fill="#e41e18"/>
<circle cx="616.70" cy="1954.20" r="6.30" fill="#e41e18"/>
<circle cx="605.50" cy="1957.10" r="6.30" fill="#e41e18"/>
<circle cx="633.10" cy="1950.80" r="6.30" fill="#e41e18"/>
<circle cx="596.10" cy="1971.90" r="6.30" fill="#e41e18"/>
<circle cx="603.00" cy="1972.50" r="6.30" fill="#e41e18"/>
<circle cx="612.80" cy="1974.30" r="6.30" fill="#e41e18"/>
<circle cx="557.00" cy="1978.80" r="6.30" fill="#e41e18"/>
<circle cx="574.00" cy="1979.80" r="6.30" fill="#e41e18"/>
<circle cx="538.50" cy="1986.70" r="6.30" fill="#e41e18"/>
<circle cx="492.60" cy="1997.10" r="6.30" fill="#e41e18"/>
<circle cx="587.20" cy="1991.60" r="6.30" fill="#e41e18"/>
<circle cx="588.20" cy="1995.00" r="6.30" fill="#e41e18"/>
<circle cx="589.20" cy="2007.40" r="6.30" fill="#e41e18"/>
<circle cx="618.10" cy="2000.90" r="6.30" fill="#e41e18"/>
<circle cx="441.40" cy="2007.40" r="6.30" fill="#e41e18"/>
<circle cx="451.20" cy="2018.20" r="6.30" fill="#e41e18"/>
<circle cx="551.30" cy="2016.80" r="6.30" fill="#e41e18"/>
<circle cx="568.90" cy="2023.70" r="6.30" fill="#e41e18"/>
<circle cx="586.80" cy="2028.10" r="6.30" fill="#e41e18"/>
<circle cx="500.50" cy="2034.60" r="6.30" fill="#e41e18"/>
<circle cx="508.80" cy="2034.00" r="6.30" fill="#e41e18"/>
<circle cx="470.00" cy="2046.20" r="6.30" fill="#e41e18"/>
<circle cx="474.90" cy="2051.70" r="6.30" fill="#e41e18"/>
<circle cx="472.90" cy="2060.00" r="6.30" fill="#e41e18"/>
<circle cx="594.10" cy="2052.70" r="6.30" fill="#e41e18"/>
<circle cx="410.80" cy="2065.30" r="6.30" fill="#e41e18"/>
<circle cx="530.60" cy="2070.40" r="6.30" fill="#e41e18"/>
<circle cx="491.00" cy="2074.80" r="6.30" fill="#e41e18"/>
<circle cx="440.40" cy="2078.30" r="6.30" fill="#e41e18"/>
<circle cx="433.10" cy="2085.20" r="6.30" fill="#e41e18"/>
<circle cx="567.10" cy="2080.90" r="6.30" fill="#e41e18"/>
<circle cx="490.20" cy="2092.10" r="6.30" fill="#e41e18"/>
<circle cx="467.60" cy="2094.70" r="6.30" fill="#e41e18"/>
<circle cx="440.40" cy="2099.60" r="6.30" fill="#e41e18"/>
<circle cx="561.20" cy="2097.00" r="6.30" fill="#e41e18"/>
<circle cx="564.50" cy="2101.00" r="6.30" fill="#e41e18"/>
<circle cx="559.20" cy="2109.90" r="6.30" fill="#e41e18"/>
<circle cx="582.90" cy="2116.40" r="6.30" fill="#e41e18"/>
<circle cx="480.80" cy="2119.70" r="6.30" fill="#e41e18"/>
<circle cx="513.90" cy="2119.70" r="6.30" fill="#e41e18"/>
<circle cx="539.90" cy="2119.70" r="6.30" fill="#e41e18"/>
<circle cx="551.70" cy="2119.70" r="6.30" fill="#e41e18"/>
<circle cx="575.40" cy="2128.20" r="6.30" fill="#e41e18"/>
<circle cx="431.10" cy="2130.90" r="6.30" fill="#e41e18"/>
<circle cx="462.70" cy="2132.90" r="6.30" fill="#e41e18"/>
<circle cx="530.00" cy="2137.00" r="6.30" fill="#e41e18"/>
<circle cx="436.10" cy="2151.20" r="6.30" fill="#e41e18"/>
<circle cx="530.00" cy="2154.20" r="6.30" fill="#e41e18"/>
<circle cx="477.40" cy="2161.10" r="6.30" fill="#e41e18"/>
<circle cx="536.60" cy="2197.90" r="6.30" fill="#e41e18"/>
<rect x="344.40" y="1909.60" width="12.40" height="12.40" fill="#1c48a0"/>
<rect x="291.00" y="1926.30" width="12.40" height="12.40" fill="#1c48a0"/>
<rect x="265.00" y="1953.90" width="12.40" height="12.40" fill="#1c48a0"/>
<rect x="128.50" y="1987.30" width="12.40" height="12.40" fill="#1c48a0"/>
<rect x="181.20" y="2002.60" width="12.40" height="12.40" fill="#1c48a0"/>
<rect x="156.40" y="2012.70" width="12.40" height="12.40" fill="#1c48a0"/>
<rect x="143.00" y="2031.20" width="12.40" height="12.40" fill="#1c48a0"/>
<rect x="236.00" y="2031.20" width="12.40" height="12.40" fill="#1c48a0"/>
<rect x="281.80" y="2038.90" width="12.40" height="12.40" fill="#1c48a0"/>
<rect x="148.20" y="2075.70" width="12.40" height="12.40" fill="#1c48a0"/>
<rect x="526.80" y="1962.20" width="12.40" height="12.40" fill="#1c48a0"/>
<rect x="509.70" y="2057.70" width="12.40" height="12.40" fill="#1c48a0"/>
<line x1="102.60" y1="1986.80" x2="717.50" y2="1986.80" stroke="#474747" stroke-width="1.80"/>
<line x1="468.20" y1="1618.00" x2="468.20" y2="2229.30" stroke="#474747" stroke-width="1.80"/>
<rect x="102.60" y="1618.00" width="614.90" height="611.30" fill="none" stroke="#262626" stroke-width="1.70"/>
<line x1="125.23" y1="2229.30" x2="125.23" y2="2236.50" stroke="#222" stroke-width="2.00"/>
<text x="125.23" y="2262.00" font-size="20.30" text-anchor="middle" font-family="'DejaVu Sans', 'Liberation Sans', sans-serif">−0.3</text>
<line x1="239.36" y1="2229.30" x2="239.36" y2="2236.50" stroke="#222" stroke-width="2.00"/>
<text x="239.36" y="2262.00" font-size="20.30" text-anchor="middle" font-family="'DejaVu Sans', 'Liberation Sans', sans-serif">−0.2</text>
<line x1="353.49" y1="2229.30" x2="353.49" y2="2236.50" stroke="#222" stroke-width="2.00"/>
<text x="353.49" y="2262.00" font-size="20.30" text-anchor="middle" font-family="'DejaVu Sans', 'Liberation Sans', sans-serif">−0.1</text>
<line x1="467.61" y1="2229.30" x2="467.61" y2="2236.50" stroke="#222" stroke-width="2.00"/>
<text x="467.61" y="2262.00" font-size="20.30" text-anchor="middle" font-family="'DejaVu Sans', 'Liberation Sans', sans-serif">0.0</text>
<line x1="581.74" y1="2229.30" x2="581.74" y2="2236.50" stroke="#222" stroke-width="2.00"/>
<text x="581.74" y="2262.00" font-size="20.30" text-anchor="middle" font-family="'DejaVu Sans', 'Liberation Sans', sans-serif">0.1</text>
<line x1="695.87" y1="2229.30" x2="695.87" y2="2236.50" stroke="#222" stroke-width="2.00"/>
<text x="695.87" y="2262.00" font-size="20.30" text-anchor="middle" font-family="'DejaVu Sans', 'Liberation Sans', sans-serif">0.2</text>
<line x1="95.40" y1="1662.28" x2="102.60" y2="1662.28" stroke="#222" stroke-width="2.00"/>
<text x="85.70" y="1669.69" font-size="20.30" text-anchor="end" font-family="'DejaVu Sans', 'Liberation Sans', sans-serif">0.3</text>
<line x1="95.40" y1="1770.42" x2="102.60" y2="1770.42" stroke="#222" stroke-width="2.00"/>
<text x="85.70" y="1777.83" font-size="20.30" text-anchor="end" font-family="'DejaVu Sans', 'Liberation Sans', sans-serif">0.2</text>
<line x1="95.40" y1="1878.56" x2="102.60" y2="1878.56" stroke="#222" stroke-width="2.00"/>
<text x="85.70" y="1885.97" font-size="20.30" text-anchor="end" font-family="'DejaVu Sans', 'Liberation Sans', sans-serif">0.1</text>
<line x1="95.40" y1="1986.70" x2="102.60" y2="1986.70" stroke="#222" stroke-width="2.00"/>
<text x="85.70" y="1994.11" font-size="20.30" text-anchor="end" font-family="'DejaVu Sans', 'Liberation Sans', sans-serif">0.0</text>
<line x1="95.40" y1="2094.85" x2="102.60" y2="2094.85" stroke="#222" stroke-width="2.00"/>
<text x="85.70" y="2102.26" font-size="20.30" text-anchor="end" font-family="'DejaVu Sans', 'Liberation Sans', sans-serif">−0.1</text>
<line x1="95.40" y1="2202.99" x2="102.60" y2="2202.99" stroke="#222" stroke-width="2.00"/>
<text x="85.70" y="2210.40" font-size="20.30" text-anchor="end" font-family="'DejaVu Sans', 'Liberation Sans', sans-serif">−0.2</text>
<text x="410.05" y="1603.60" font-size="24.60" text-anchor="middle" font-family="'DejaVu Sans', 'Liberation Sans', sans-serif">PCoA - PC1 vs PC2</text>
<text x="410.05" y="2290.50" font-size="19.80" text-anchor="middle" font-family="'DejaVu Sans', 'Liberation Sans', sans-serif">PC1 - Percent variation explained 9.93%</text>
<text transform="translate(24.50,1923.65) rotate(-90)" x="0" y="0" font-size="19.80" text-anchor="middle" font-family="'DejaVu Sans', 'Liberation Sans', sans-serif">PC2 - Percent variation explained 5.67%</text>
<circle cx="732.20" cy="1710.30" r="6.30" fill="#e41e18"/>
<text transform="translate(752.70,1715.90) scale(0.95,1)" x="0" y="0" font-size="15.70" font-family="'Liberation Sans', 'DejaVu Sans', sans-serif">SFRA</text>
<rect x="727.30" y="1736.60" width="12.40" height="12.40" fill="#1c48a0"/>
<text transform="translate(752.70,1748.40) scale(0.95,1)" x="0" y="0" font-size="15.70" font-family="'Liberation Sans', 'DejaVu Sans', sans-serif">STRA</text>
<text transform="translate(24.56,1604.60) scale(0.734,1)" x="0" y="0" font-size="44.93" font-family="'Liberation Sans', 'DejaVu Sans', sans-serif" stroke="#000" stroke-width="0.5">E</text>
<circle cx="1142.40" cy="1671.80" r="6.09" fill="#1c48a0"/>
<circle cx="1082.30" cy="1951.20" r="6.09" fill="#1c48a0"/>
<circle cx="1066.60" cy="1961.30" r="6.09" fill="#1c48a0"/>
<circle cx="988.70" cy="1969.40" r="6.09" fill="#1c48a0"/>
<circle cx="1072.30" cy="1999.00" r="6.09" fill="#1c48a0"/>
<circle cx="1127.10" cy="2019.00" r="6.09" fill="#1c48a0"/>
<circle cx="957.20" cy="2084.80" r="6.09" fill="#1c48a0"/>
<circle cx="1116.20" cy="2094.40" r="6.09" fill="#1c48a0"/>
<circle cx="1123.30" cy="2131.20" r="6.09" fill="#1c48a0"/>
<circle cx="1025.90" cy="2153.60" r="6.09" fill="#1c48a0"/>
<circle cx="962.40" cy="2160.20" r="6.09" fill="#1c48a0"/>
<circle cx="1077.50" cy="2173.00" r="6.09" fill="#1c48a0"/>
<rect x="1063.30" y="1776.90" width="11.99" height="11.99" fill="#e41e18"/>
<rect x="1170.70" y="1851.40" width="11.99" height="11.99" fill="#e41e18"/>
<rect x="1072.10" y="2033.60" width="11.99" height="11.99" fill="#e41e18"/>
<rect x="1167.90" y="2027.30" width="11.99" height="11.99" fill="#e41e18"/>
<rect x="1178.40" y="2040.70" width="11.99" height="11.99" fill="#e41e18"/>
<rect x="1432.90" y="1842.40" width="11.99" height="11.99" fill="#e41e18"/>
<rect x="1420.20" y="1872.40" width="11.99" height="11.99" fill="#e41e18"/>
<rect x="1453.60" y="1871.80" width="11.99" height="11.99" fill="#e41e18"/>
<rect x="1461.80" y="1900.40" width="11.99" height="11.99" fill="#e41e18"/>
<rect x="1379.10" y="1946.20" width="11.99" height="11.99" fill="#e41e18"/>
<rect x="1404.90" y="1958.60" width="11.99" height="11.99" fill="#e41e18"/>
<rect x="1424.50" y="1965.70" width="11.99" height="11.99" fill="#e41e18"/>
<rect x="1341.50" y="1972.90" width="11.99" height="11.99" fill="#e41e18"/>
<rect x="1458.00" y="1976.70" width="11.99" height="11.99" fill="#e41e18"/>
<rect x="1463.70" y="1981.50" width="11.99" height="11.99" fill="#e41e18"/>
<rect x="1485.10" y="1984.40" width="11.99" height="11.99" fill="#e41e18"/>
<rect x="1355.30" y="1989.50" width="11.99" height="11.99" fill="#e41e18"/>
<rect x="1445.40" y="1989.50" width="11.99" height="11.99" fill="#e41e18"/>
<rect x="1373.40" y="1996.40" width="11.99" height="11.99" fill="#e41e18"/>
<rect x="1370.10" y="2011.70" width="11.99" height="11.99" fill="#e41e18"/>
<rect x="1395.30" y="2012.00" width="11.99" height="11.99" fill="#e41e18"/>
<rect x="1451.70" y="2030.70" width="11.99" height="11.99" fill="#e41e18"/>
<rect x="1486.00" y="2031.70" width="11.99" height="11.99" fill="#e41e18"/>
<rect x="1316.50" y="2041.20" width="11.99" height="11.99" fill="#e41e18"/>
<rect x="1424.00" y="2039.70" width="11.99" height="11.99" fill="#e41e18"/>
<rect x="1432.20" y="2037.80" width="11.99" height="11.99" fill="#e41e18"/>
<rect x="1467.90" y="2037.40" width="11.99" height="11.99" fill="#e41e18"/>
<rect x="1435.40" y="2049.60" width="11.99" height="11.99" fill="#e41e18"/>
<rect x="1472.10" y="2058.80" width="11.99" height="11.99" fill="#e41e18"/>
<rect x="1339.00" y="2065.10" width="11.99" height="11.99" fill="#e41e18"/>
<rect x="1459.30" y="2076.60" width="11.99" height="11.99" fill="#e41e18"/>
<rect x="1269.40" y="2102.10" width="11.99" height="11.99" fill="#e41e18"/>
<rect x="1416.30" y="2109.40" width="11.99" height="11.99" fill="#e41e18"/>
<rect x="1451.70" y="2119.50" width="11.99" height="11.99" fill="#e41e18"/>
<rect x="1446.50" y="2131.90" width="11.99" height="11.99" fill="#e41e18"/>
<rect x="1478.40" y="2128.50" width="11.99" height="11.99" fill="#e41e18"/>
<rect x="1337.70" y="2131.90" width="11.99" height="11.99" fill="#e41e18"/>
<rect x="1358.10" y="2133.60" width="11.99" height="11.99" fill="#e41e18"/>
<rect x="1306.60" y="2139.50" width="11.99" height="11.99" fill="#e41e18"/>
<rect x="1295.50" y="2149.10" width="11.99" height="11.99" fill="#e41e18"/>
<rect x="1264.60" y="2184.20" width="11.99" height="11.99" fill="#e41e18"/>
<rect x="1390.60" y="2196.80" width="11.99" height="11.99" fill="#e41e18"/>
<line x1="926.80" y1="2029.90" x2="1521.60" y2="2029.90" stroke="#474747" stroke-width="1.74"/>
<line x1="1307.80" y1="1641.80" x2="1307.80" y2="2232.00" stroke="#474747" stroke-width="1.74"/>
<rect x="926.80" y="1641.80" width="594.80" height="590.20" fill="none" stroke="#262626" stroke-width="1.64"/>
<line x1="958.40" y1="2232.00" x2="958.40" y2="2238.96" stroke="#222" stroke-width="1.93"/>
<text x="958.40" y="2264.00" font-size="19.63" text-anchor="middle" font-family="'DejaVu Sans', 'Liberation Sans', sans-serif">−0.25</text>
<line x1="1028.22" y1="2232.00" x2="1028.22" y2="2238.96" stroke="#222" stroke-width="1.93"/>
<text x="1028.22" y="2264.00" font-size="19.63" text-anchor="middle" font-family="'DejaVu Sans', 'Liberation Sans', sans-serif">−0.20</text>
<line x1="1098.04" y1="2232.00" x2="1098.04" y2="2238.96" stroke="#222" stroke-width="1.93"/>
<text x="1098.04" y="2264.00" font-size="19.63" text-anchor="middle" font-family="'DejaVu Sans', 'Liberation Sans', sans-serif">−0.15</text>
<line x1="1167.87" y1="2232.00" x2="1167.87" y2="2238.96" stroke="#222" stroke-width="1.93"/>
<text x="1167.87" y="2264.00" font-size="19.63" text-anchor="middle" font-family="'DejaVu Sans', 'Liberation Sans', sans-serif">−0.10</text>
<line x1="1237.69" y1="2232.00" x2="1237.69" y2="2238.96" stroke="#222" stroke-width="1.93"/>
<text x="1237.69" y="2264.00" font-size="19.63" text-anchor="middle" font-family="'DejaVu Sans', 'Liberation Sans', sans-serif">−0.05</text>
<line x1="1307.51" y1="2232.00" x2="1307.51" y2="2238.96" stroke="#222" stroke-width="1.93"/>
<text x="1307.51" y="2264.00" font-size="19.63" text-anchor="middle" font-family="'DejaVu Sans', 'Liberation Sans', sans-serif">0.00</text>
<line x1="1377.34" y1="2232.00" x2="1377.34" y2="2238.96" stroke="#222" stroke-width="1.93"/>
<text x="1377.34" y="2264.00" font-size="19.63" text-anchor="middle" font-family="'DejaVu Sans', 'Liberation Sans', sans-serif">0.05</text>
<line x1="1447.16" y1="2232.00" x2="1447.16" y2="2238.96" stroke="#222" stroke-width="1.93"/>
<text x="1447.16" y="2264.00" font-size="19.63" text-anchor="middle" font-family="'DejaVu Sans', 'Liberation Sans', sans-serif">0.10</text>
<line x1="1516.98" y1="2232.00" x2="1516.98" y2="2238.96" stroke="#222" stroke-width="1.93"/>
<text x="1516.98" y="2264.00" font-size="19.63" text-anchor="middle" font-family="'DejaVu Sans', 'Liberation Sans', sans-serif">0.15</text>
<line x1="919.84" y1="1681.70" x2="926.80" y2="1681.70" stroke="#222" stroke-width="1.93"/>
<text x="913.00" y="1688.86" font-size="19.63" text-anchor="end" font-family="'DejaVu Sans', 'Liberation Sans', sans-serif">0.3</text>
<line x1="919.84" y1="1797.81" x2="926.80" y2="1797.81" stroke="#222" stroke-width="1.93"/>
<text x="913.00" y="1804.97" font-size="19.63" text-anchor="end" font-family="'DejaVu Sans', 'Liberation Sans', sans-serif">0.2</text>
<line x1="919.84" y1="1913.92" x2="926.80" y2="1913.92" stroke="#222" stroke-width="1.93"/>
<text x="913.00" y="1921.08" font-size="19.63" text-anchor="end" font-family="'DejaVu Sans', 'Liberation Sans', sans-serif">0.1</text>
<line x1="919.84" y1="2030.03" x2="926.80" y2="2030.03" stroke="#222" stroke-width="1.93"/>
<text x="913.00" y="2037.19" font-size="19.63" text-anchor="end" font-family="'DejaVu Sans', 'Liberation Sans', sans-serif">0.0</text>
<line x1="919.84" y1="2146.14" x2="926.80" y2="2146.14" stroke="#222" stroke-width="1.93"/>
<text x="913.00" y="2153.30" font-size="19.63" text-anchor="end" font-family="'DejaVu Sans', 'Liberation Sans', sans-serif">−0.1</text>
<text x="1224.20" y="1628.00" font-size="23.79" text-anchor="middle" font-family="'DejaVu Sans', 'Liberation Sans', sans-serif">PCoA - PC1 vs PC2</text>
<text x="1224.20" y="2292.00" font-size="19.15" text-anchor="middle" font-family="'DejaVu Sans', 'Liberation Sans', sans-serif">PC1 - Percent variation explained 11.12%</text>
<text transform="translate(852.00,1936.90) rotate(-90)" x="0" y="0" font-size="19.15" text-anchor="middle" font-family="'DejaVu Sans', 'Liberation Sans', sans-serif">PC2 - Percent variation explained 6.45%</text>
<rect x="1529.60" y="1727.50" width="11.99" height="11.99" fill="#e41e18"/>
<text transform="translate(1554.80,1738.92) scale(0.95,1)" x="0" y="0" font-size="15.18" font-family="'Liberation Sans', 'DejaVu Sans', sans-serif">SFOA</text>
<circle cx="1535.50" cy="1763.00" r="6.09" fill="#1c48a0"/>
<text transform="translate(1554.80,1768.42) scale(0.95,1)" x="0" y="0" font-size="15.18" font-family="'Liberation Sans', 'DejaVu Sans', sans-serif">STOA</text>
<text transform="translate(865.87,1604.60) scale(0.759,1)" x="0" y="0" font-size="44.93" font-family="'Liberation Sans', 'DejaVu Sans', sans-serif" stroke="#000" stroke-width="0.5">F</text>
</svg>
</body></html>
